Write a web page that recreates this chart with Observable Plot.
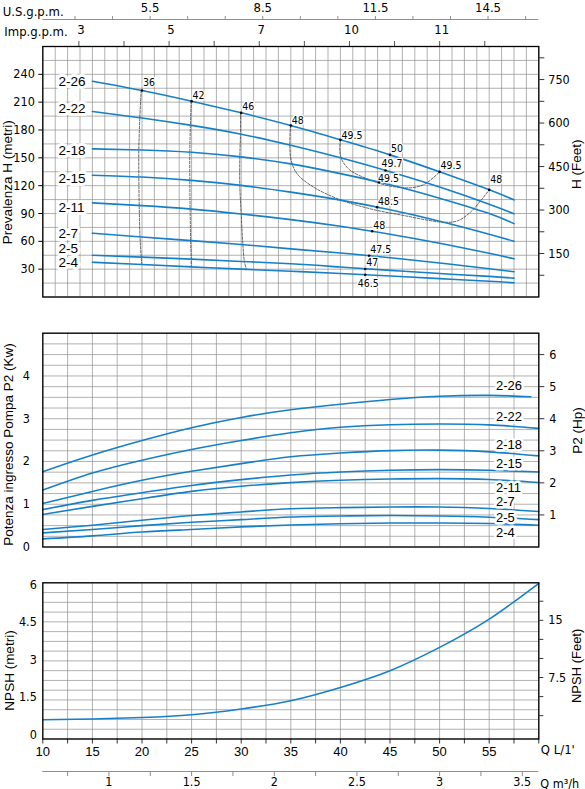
<!DOCTYPE html>
<html><head><meta charset="utf-8">
<script src="https://cdn.jsdelivr.net/npm/d3@7"></script>
<script src="https://cdn.jsdelivr.net/npm/@observablehq/plot@0.6"></script>
<style>
html,body{margin:0;padding:0;background:#fff;}
#chart{position:relative;width:585px;height:789px;overflow:hidden;background:#fff;}
#chart svg{position:absolute;left:0;background:transparent;overflow:visible;max-width:none;}
</style></head><body><div id="chart"></div>
<script>
// ---------------- DATA ----------------
const seriesNames = ["2-26","2-22","2-18","2-15","2-11","2-7","2-5","2-4"];

// top unit axes
const usGpmTicks = [3.5,4.5,5.5,6.5,7.5,8.5,9.5,10.5,11.5,12.5,13.5,14.5,15.5];
const usGpmLabels = [5.5,8.5,11.5,14.5];
const impGpmTicks = [3,4,5,6,7,8,9,10,11,12];
const impGpmLabelAt = [3,5,7,9,11];
const impGpmLabelText = ["3","5","7","10","11"];

// Head H (m) vs Q (L/min)
const headQ = [15,20,25,30,35,40,45,50,55,57.5];
const head_2_26 = [232.5,222.5,211,198.5,184.8,169.4,153.2,134.9,115.5,104.7];
const head_2_22 = [200,193,185,175.5,163.5,150,135,118.5,100,89.6];
const head_2_18 = [159.7,158.5,156,151,143.5,133,121,106.5,90,79.1];
const head_2_15 = [131.3,129.3,125.7,120.3,113,104.4,94,81.7,67.7,60.1];
const head_2_11 = [101.5,98.5,94.7,89.5,83.4,76.2,67.6,57.9,47.1,41.2];
const head_2_7  = [68.8,64.6,60.8,56.6,51.9,47.4,42.3,36.6,30.5,27.2];
const head_2_5  = [45,43,40.8,38.3,35.8,32.3,28.7,25.3,22.2,20.3];
const head_2_4  = [37.5,35,32.5,30,27.8,25.3,22.6,19.8,17,15.3];
const headValues = [head_2_26,head_2_22,head_2_18,head_2_15,head_2_11,head_2_7,head_2_5,head_2_4];
const headTicksM = [30,60,90,120,150,180,210,240];
const headTicksFeet = [75,150,225,300,375,450,525,600,675,750,825];
const headLabelsFeet = [150,300,450,600,750];

// efficiency points (%)
const effQ = [20,25,30,35,40,45,50,55,44.55,43.9,43.7,43.2,42.9,42.5,42.5];
const effH = [222.5,211,198.5,184.8,169.4,153.2,134.9,115.5,136.3,123.7,96.8,70.9,44.5,30.2,24];
const effText = ["36","42","46","48","49.5","50","49.5","48","49.7","49.5","48.5","48","47.5","47","46.5"];

// iso-efficiency dashed curves [Q, H]
const iso36 = [[19.92,222.5],[19.78,193],[19.68,158],[19.68,129],[19.72,98],[19.8,64.5],[19.92,43],[19.98,35]];
const iso42 = [[24.96,211],[24.88,185],[24.82,155.5],[24.82,125.5],[24.85,94.5],[24.9,61],[24.96,40.8],[24.96,32.5]];
const iso46 = [[29.93,198.5],[29.93,175.2],[29.86,150.5],[29.86,120.3],[30.0,89.3],[30.17,56.4],[30.33,37.8],[30.55,29.5]];
const iso48 = [[34.97,184.8],[34.9,165.1],[35.04,147.1],[35.64,132.7],[37.32,118.3],[40.01,104.7],[43.03,95.0],[46.39,87.8],[50.2,80.8],[51.77,81.9],[53.11,91.4],[54.29,105.8],[55.0,115.5]];
const iso495 = [[40.01,169.4],[39.94,157.9],[40.18,147.1],[41.02,136.3],[42.7,127.4],[44.72,120.2],[47.07,117.7],[48.41,121.2],[49.42,129.1],[50.0,134.9]];

// Power P2 (kW)
const powerQ = [10,15,20,25,30,35,40,45,50,55,60];
const powerQ_2_26 = [10,15,20,25,30,35,40,45,50,55,59.2];
const power_2_26 = [1.76,2.15,2.49,2.79,3.03,3.21,3.34,3.45,3.525,3.545,3.515];
const power_2_22 = [1.33,1.73,2.03,2.28,2.49,2.67,2.80,2.86,2.875,2.855,2.775];
const power_2_18 = [1.02,1.30,1.56,1.77,1.95,2.11,2.20,2.255,2.265,2.225,2.13];
const power_2_15 = [0.875,1.09,1.27,1.44,1.575,1.685,1.755,1.795,1.81,1.795,1.755];
const power_2_11 = [0.76,0.95,1.13,1.30,1.42,1.505,1.56,1.59,1.60,1.578,1.51];
const power_2_7  = [0.41,0.51,0.625,0.735,0.82,0.895,0.92,0.935,0.935,0.90,0.83];
const power_2_5  = [0.33,0.41,0.50,0.578,0.64,0.70,0.725,0.735,0.725,0.697,0.64];
const power_2_4  = [0.19,0.26,0.35,0.41,0.47,0.515,0.545,0.56,0.56,0.548,0.51];
const powerValues = [power_2_26,power_2_22,power_2_18,power_2_15,power_2_11,power_2_7,power_2_5,power_2_4];
const powerTicksKw = [0,1,2,3,4];
const powerTicksHp = [1,2,3,4,5,6];

// NPSH (m)
const npshQ = [10,15,20,25,30,35,40,45,50,55,60];
const npshM = [0.6,0.63,0.69,0.80,1.03,1.36,1.89,2.56,3.49,4.62,6.05];
const npshTicksM = [0,1.5,3,4.5,6];
const npshTicksFeet = [2.5,5,7.5,10,12.5,15,17.5];
const npshLabelsFeet = [7.5,15];

// bottom axes
const qTicks = [10,12.5,15,17.5,20,22.5,25,27.5,30,32.5,35,37.5,40,42.5,45,47.5,50,52.5,55,57.5,60];
const qLabels = [10,15,20,25,30,35,40,45,50,55];
const m3hTicks = [0.75,1,1.25,1.5,1.75,2,2.25,2.5,2.75,3,3.25,3.5];
const m3hLabels = [1,1.5,2,2.5,3,3.5];

// ---------------- STYLE / LAYOUT ----------------
const BLUE = "#1580c8", GRID = "#8f8f8f";
const COND = "'DejaVu Sans Condensed','Liberation Sans Narrow','DejaVu Sans',sans-serif";
const SANS = "'Liberation Sans',Arial,sans-serif";
const W = 585, ML = 42.3, MR = 46.7;
const L_US = 3.785, L_IMP = 4.546, FT_PER_M_HEAD = 3.2, M_PER_FT = 0.3048, KW_PER_HP = 0.75;
const headLabelDy = {"2-26":0,"2-22":-3,"2-18":2,"2-15":3.6,"2-11":4.4,"2-7":0.5,"2-5":-7,"2-4":0.3};
const powerLabelDy = {"2-26":-11,"2-22":-11.5,"2-18":-10.7,"2-15":-7.8,"2-11":5,"2-7":-9.3,"2-5":-1.7,"2-4":7.8};
const effNudge = {0:{dy:-8},3:{dy:-4.5},4:{dy:-4.5},7:{dy:-10},8:{dx:-4,dy:-6.7},9:{dx:-1,dy:-3.5},14:{dx:3,dy:9,anchor:"middle"}};
const titleStyle = {rotate: -90, textAnchor: "middle", lineAnchor: "middle", fontFamily: SANS, fontSize: 13.5, fill: "black"};

const chart = document.getElementById("chart");
function place(svg, top){ svg.style.top = top + "px"; chart.appendChild(svg); }
const rnd = (v, k) => Math.round(v * k) / k;

// ---------------- HEADER (unit axes) ----------------
const header = Plot.plot({
  width: W, height: 46, marginLeft: ML, marginRight: MR, marginTop: 19, marginBottom: 0,
  x: {domain: [10, 60], axis: null}, y: {domain: [0, 1], axis: null},
  marks: [
    Plot.ruleY([1], {stroke: GRID, strokeWidth: 1}),
    Plot.axisX(usGpmTicks.map(g => g * L_US), {anchor: "top", tickSize: 4, tickPadding: 3.5, stroke: GRID, fill: "black",
      tickFormat: d => { const g = rnd(d / L_US, 10); return usGpmLabels.includes(g) ? String(g) : ""; },
      fontFamily: COND, fontSize: 13, label: null}),
    Plot.tickX(impGpmTicks, {x: d => d * L_IMP, insetTop: 22, stroke: "#555"}),
    Plot.text(impGpmLabelAt, {x: d => d * L_IMP, text: (d, i) => impGpmLabelText[i], frameAnchor: "bottom", dy: -13, dx: 2, fontFamily: COND, fontSize: 13, fill: "black"}),
    Plot.text(["U.S.g.p.m."], {text: d => d, frameAnchor: "top-left", dx: -40, dy: -12.5, textAnchor: "start", fontFamily: COND, fontSize: 13, fill: "black"}),
    Plot.text(["Imp.g.p.m."], {text: d => d, frameAnchor: "bottom-left", dx: -38.5, dy: -11, textAnchor: "start", fontFamily: COND, fontSize: 13, fill: "black"})
  ]
});
place(header, 0);

// ---------------- HEAD PANEL ----------------
const headTable = seriesNames.flatMap((s, k) => headQ.map((q, i) => ({series: s, q, h: headValues[k][i]})));
const effTable = effQ.map((q, i) => ({q, h: effH[i], t: effText[i], i}));
const headPanel = Plot.plot({
  width: W, height: 260, marginLeft: ML, marginRight: MR, marginTop: 6, marginBottom: 3.5,
  x: {domain: [10, 60], axis: null}, y: {domain: [0, 270], axis: null},
  marks: [
    Plot.ruleX(d3.range(10, 60.001, 1.25), {stroke: GRID, strokeWidth: 0.7}),
    Plot.ruleY(d3.range(0, 270.001, 15), {stroke: GRID, strokeWidth: 0.7}),
    ...[iso36, iso42, iso46, iso48, iso495].map(c => Plot.line(c, {x: d => d[0], y: d => d[1], stroke: "#222", strokeWidth: 0.7, strokeDasharray: "2.5,1.5", curve: "catmull-rom"})),
    Plot.line(headTable, {x: "q", y: "h", z: "series", stroke: BLUE, strokeWidth: 1.6, curve: "natural"}),
    Plot.dot(effTable, {x: "q", y: "h", r: 1.3, fill: "black"}),
    ...effTable.map(d => { const n = effNudge[d.i] || {}; return Plot.text([d], {x: "q", y: "h", text: "t", dx: n.dx ?? 1, dy: n.dy ?? -6, textAnchor: n.anchor ?? "start", fontFamily: COND, fontSize: 10.5, fill: "black", stroke: "white", strokeWidth: 2.5}); }),
    ...seriesNames.map((s, k) => Plot.text([s], {x: () => headQ[0], y: () => headValues[k][0], text: d => d, dx: -34, dy: headLabelDy[s], textAnchor: "start", fontFamily: SANS, fontSize: 13.5, fill: "black", stroke: "white", strokeWidth: 6})),
    Plot.axisY(headTicksM, {anchor: "left", tickSize: 4, tickPadding: 4, fontFamily: COND, fontSize: 12.5, label: null}),
    Plot.axisY(headTicksFeet.map(f => f / FT_PER_M_HEAD), {anchor: "right", tickSize: 5, tickPadding: 4.5, stroke: "#333",
      tickFormat: d => { const f = Math.round(d * FT_PER_M_HEAD); return headLabelsFeet.includes(f) ? String(f) : ""; },
      fontFamily: COND, fontSize: 12.5, label: null}),
    Plot.frame({stroke: "black", strokeWidth: 1.3}),
    Plot.text(["Prevalenza H (metri)"], {text: d => d, frameAnchor: "left", dx: -35, dy: 10.5, ...titleStyle}),
    Plot.text(["H (Feet)"], {text: d => d, frameAnchor: "right", dx: 38, dy: -7.5, ...titleStyle})
  ]
});
place(headPanel, 40);

// ---------------- POWER PANEL ----------------
const powerTable = seriesNames.flatMap((s, k) => (s === "2-26" ? powerQ_2_26 : powerQ).map((q, i) => ({series: s, q, p: powerValues[k][i]})));
const powerPanel = Plot.plot({
  width: W, height: 224.5, marginLeft: ML, marginRight: MR, marginTop: 6.7, marginBottom: 4,
  x: {domain: [10, 60], axis: null}, y: {domain: [0, 5], axis: null},
  marks: [
    Plot.ruleX(d3.range(10, 60.001, 2.5), {stroke: GRID, strokeWidth: 0.7}),
    Plot.ruleY(d3.range(0, 5.001, 0.25), {stroke: GRID, strokeWidth: 0.7}),
    Plot.line(powerTable, {x: "q", y: "p", z: "series", stroke: BLUE, strokeWidth: 1.6, curve: "natural"}),
    ...seriesNames.map((s, k) => Plot.text([s], {y: () => powerValues[k][powerValues[k].length - 1], text: d => d, frameAnchor: "right", dx: -42.8, dy: powerLabelDy[s], textAnchor: "start", fontFamily: SANS, fontSize: 13, fill: "black", stroke: "white", strokeWidth: 5})),
    Plot.axisY(powerTicksKw, {anchor: "left", tickSize: 0, tickPadding: 13, fontFamily: COND, fontSize: 12.5, label: null}),
    Plot.axisY(powerTicksHp.map(h => h * KW_PER_HP), {anchor: "right", tickSize: 5, tickPadding: 5.5, stroke: "#333",
      tickFormat: d => String(Math.round(d / KW_PER_HP)), fontFamily: COND, fontSize: 12.5, label: null}),
    Plot.frame({stroke: "black", strokeWidth: 1.3}),
    Plot.text(["Potenza ingresso Pompa P2 (Kw)"], {text: d => d, frameAnchor: "left", dx: -34, dy: 4.4, ...titleStyle}),
    Plot.text(["P2 (Hp)"], {text: d => d, frameAnchor: "right", dx: 38.5, dy: -9.6, ...titleStyle})
  ]
});
place(powerPanel, 326);

// ---------------- NPSH PANEL ----------------
const npshDomain = [-0.17, 6.07];
const npshTable = npshQ.map((q, i) => ({q, n: npshM[i]}));
const npshPanel = Plot.plot({
  width: W, height: 213, marginLeft: ML, marginRight: MR, marginTop: 6.3, marginBottom: 50.5,
  x: {domain: [10, 60], axis: null}, y: {domain: npshDomain, axis: null},
  marks: [
    Plot.ruleX(d3.range(10, 60.001, 2.5), {stroke: GRID, strokeWidth: 0.7}),
    Plot.ruleY(d3.range(0, 17).map(i => npshDomain[0] + i * (npshDomain[1] - npshDomain[0]) / 16), {stroke: GRID, strokeWidth: 0.7}),
    Plot.line(npshTable, {x: "q", y: "n", stroke: BLUE, strokeWidth: 1.6, curve: "natural"}),
    Plot.axisY(npshTicksM, {anchor: "left", tickSize: 0, tickPadding: 6, tickFormat: d => String(d), fontFamily: COND, fontSize: 12.5, label: null}),
    Plot.axisY(npshTicksFeet.map(f => f * M_PER_FT), {anchor: "right", tickSize: 4, tickPadding: 5.5, stroke: "#333",
      tickFormat: d => { const f = rnd(d / M_PER_FT, 10); return npshLabelsFeet.includes(f) ? String(f) : ""; },
      fontFamily: COND, fontSize: 12.5, label: null}),
    Plot.axisX(qTicks, {anchor: "bottom", tickSize: 5, tickPadding: 3, stroke: "#333",
      tickFormat: d => qLabels.includes(d) ? String(d) : "", fontFamily: SANS, fontSize: 13, label: null}),
    Plot.frame({stroke: "black", strokeWidth: 1.3}),
    Plot.text(["Q L/1'"], {text: d => d, frameAnchor: "bottom-right", dx: 2, dy: 15, textAnchor: "start", fontFamily: COND, fontSize: 13, fill: "black"}),
    Plot.text(["NPSH (metri)"], {text: d => d, frameAnchor: "left", dx: -33.3, dy: 9.6, ...titleStyle}),
    Plot.text(["NPSH (Feet)"], {text: d => d, frameAnchor: "right", dx: 38.5, dy: 5, ...titleStyle, fontSize: 13})
  ]
});
place(npshPanel, 576);

// ---------------- m3/h AXIS ----------------
const m3Axis = Plot.plot({
  width: W, height: 24, marginLeft: ML, marginRight: MR, marginTop: 6, marginBottom: 13,
  x: {domain: [10, 60], axis: null}, y: {domain: [0, 1], axis: null},
  marks: [
    Plot.ruleY([1], {stroke: GRID, strokeWidth: 1}),
    Plot.tickX(m3hTicks, {x: d => d * 1000 / 60, stroke: GRID}),
    Plot.axisX(m3hLabels.map(m => m * 1000 / 60), {anchor: "bottom", tickSize: 0, tickPadding: 1,
      tickFormat: d => String(rnd(d * 60 / 1000, 100)), fontFamily: COND, fontSize: 12.5, label: null}),
    Plot.text(["Q m³/h"], {text: d => d, frameAnchor: "right", dx: 1.5, dy: 9.5, textAnchor: "start", fontFamily: COND, fontSize: 12.5, fill: "black"})
  ]
});
place(m3Axis, 765);
</script></body></html>
